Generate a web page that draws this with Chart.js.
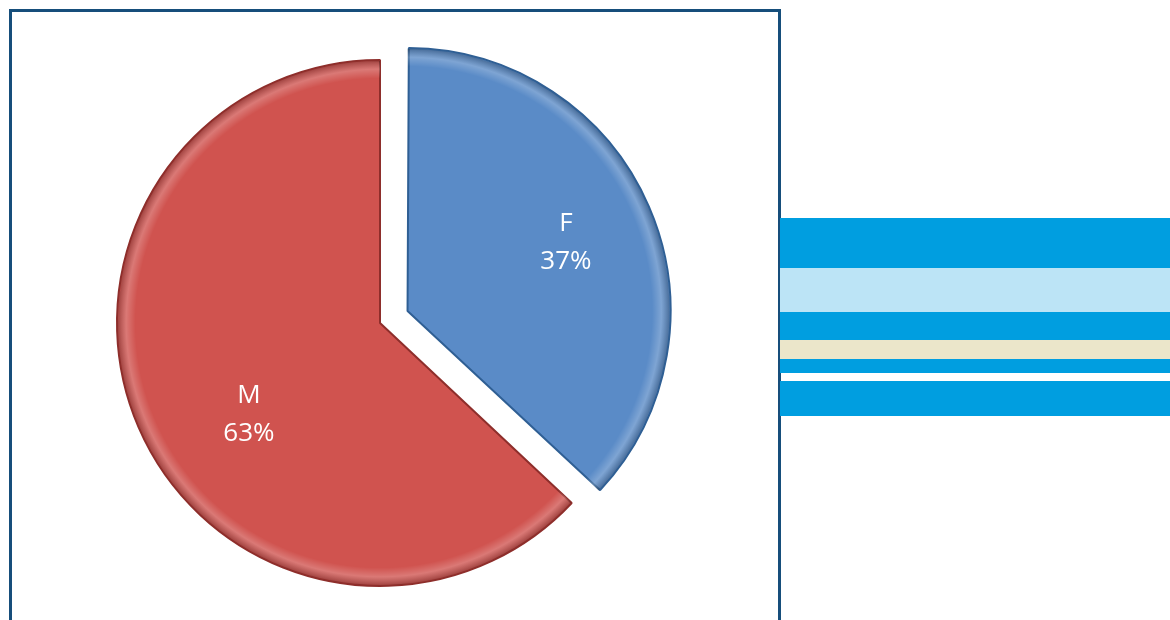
<!DOCTYPE html>
<html>
<head>
<meta charset="utf-8">
<script src="https://cdn.jsdelivr.net/npm/chart.js@4/dist/chart.umd.min.js"></script>
<style>
  html, body { margin: 0; padding: 0; background: #fff; overflow: hidden; }
  body { width: 1170px; height: 620px; position: relative; }
  #frame {
    position: absolute; left: 9px; top: 9px; width: 766px; height: 620px;
    border: 3px solid #164e7b; border-bottom: none; box-sizing: content-box;
  }
  #wrap { position: absolute; left: 80px; top: 23px; width: 600px; height: 600px; }
  .stripe { position: absolute; left: 780px; width: 390px; }
</style>
</head>
<body>
<div id="frame"></div>
<div id="wrap"><canvas id="pieChart"></canvas></div>
<div class="stripe" style="top:218px;height:50px;background:#009ee0"></div>
<div class="stripe" style="top:268px;height:44px;background:#bce4f6"></div>
<div class="stripe" style="top:312px;height:28px;background:#009ee0"></div>
<div class="stripe" style="top:340px;height:19px;background:#ebe6ca"></div>
<div class="stripe" style="top:359px;height:14px;background:#009ee0"></div>
<div class="stripe" style="top:381px;height:35px;background:#009ee0"></div>
<script>
// --- 데이터 ---
const labels = ['F', 'M'];
const shares = [37, 63];
const sliceColors = ['#5a8bc7', '#d0534f'];
const edgeColors = ['#2f5f94', '#8e2e2b'];

// 분리된 조각이 커지지 않도록 반지름 보정 (Chart.js는 offset만큼 반지름을 늘림)
const keepRadius = {
    id: 'keepRadius',
    afterDatasetUpdate(chart) {
        chart.getDatasetMeta(0).data.forEach(arc => {
            const off = (arc.options.offset || 0) / 4;
            const fix = 1 - Math.sin(Math.min(Math.PI, arc.circumference));
            arc.outerRadius -= off * fix;
        });
    }
};

// 입체 느낌의 가장자리
const bevel = {
    id: 'bevel',
    afterDatasetsDraw(chart) {
        const c = chart.ctx;
        chart.getDatasetMeta(0).data.forEach(arc => {
            const mid = (arc.startAngle + arc.endAngle) / 2;
            const off = (arc.options.offset || 0) / 4;
            const fix = 1 - Math.sin(Math.min(Math.PI, arc.circumference));
            const R = arc.outerRadius + off * fix;
            c.save();
            c.translate(Math.cos(mid) * off, Math.sin(mid) * off);
            c.beginPath();
            c.moveTo(arc.x, arc.y);
            c.arc(arc.x, arc.y, R - 1, arc.startAngle, arc.endAngle);
            c.closePath();
            c.clip();
            const g = c.createRadialGradient(arc.x, arc.y, 0, arc.x, arc.y, R);
            g.addColorStop(0, 'rgba(255,255,255,0)');
            g.addColorStop(0.93, 'rgba(255,255,255,0)');
            g.addColorStop(0.965, 'rgba(255,255,255,0.22)');
            g.addColorStop(1, 'rgba(0,0,0,0.25)');
            c.fillStyle = g;
            c.fillRect(arc.x - R, arc.y - R, 2 * R, 2 * R);
            c.restore();
        });
    }
};

// 조각 안쪽 라벨 (이름 + 퍼센트)
const labelShift = [[11, -5], [21, 26]];
const sliceLabels = {
    id: 'sliceLabels',
    afterDatasetsDraw(chart) {
        const c = chart.ctx;
        chart.getDatasetMeta(0).data.forEach((arc, i) => {
            const mid = (arc.startAngle + arc.endAngle) / 2;
            const off = (arc.options.offset || 0) / 4;
            const r = arc.outerRadius * 0.63 + off;
            const x = arc.x + Math.cos(mid) * r + labelShift[i][0];
            const y = arc.y + Math.sin(mid) * r + labelShift[i][1];
            c.save();
            c.fillStyle = '#ffffff';
            c.font = '26px "Open Sans", sans-serif';
            c.textAlign = 'center';
            c.textBaseline = 'middle';
            c.fillText(labels[i], x, y - 19);
            c.fillText(shares[i] + '%', x, y + 19);
            c.restore();
        });
    }
};

const ctx = document.getElementById('pieChart').getContext('2d');
const pieChart = new Chart(ctx, {
    type: 'pie',
    data: {
        labels: labels,
        datasets: [{
            data: shares,
            backgroundColor: sliceColors,
            borderColor: edgeColors,
            borderWidth: 2,
            offset: [120, 0],
            hoverOffset: 0
        }]
    },
    options: {
        responsive: true,
        maintainAspectRatio: false,
        animation: false,
        radius: 263,
        plugins: {
            legend: { display: false },
            tooltip: { enabled: false }
        }
    },
    plugins: [keepRadius, bevel, sliceLabels]
});
</script>
</body>
</html>
